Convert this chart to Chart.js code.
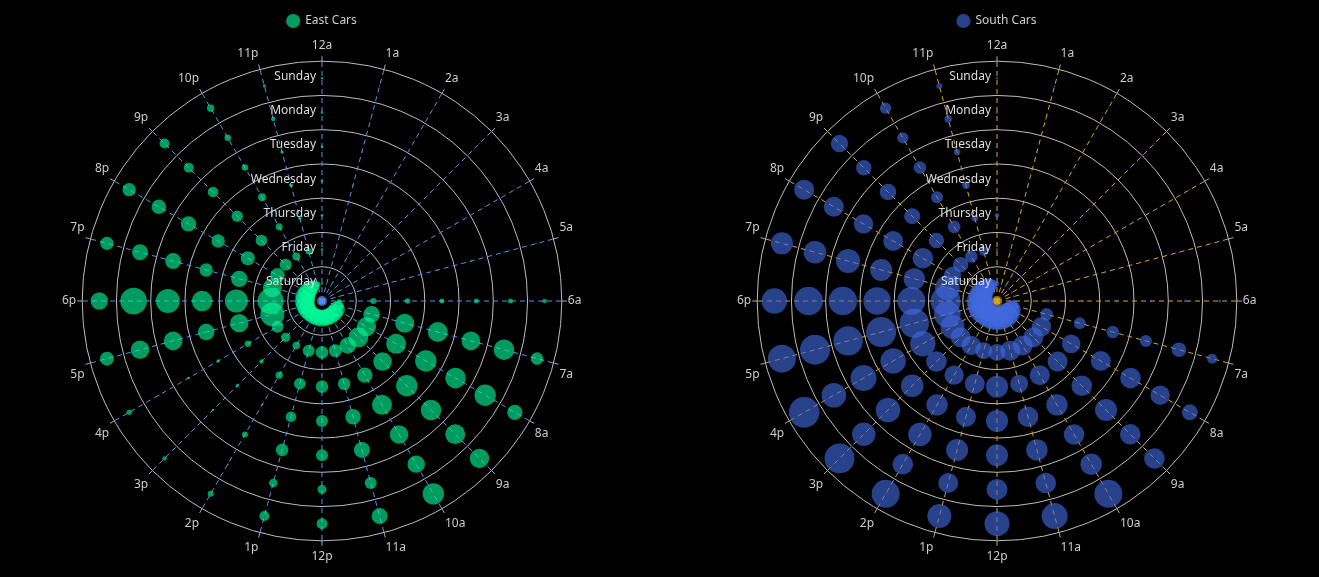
<!DOCTYPE html>
<html>
<head>
<meta charset="utf-8">
<script src="https://cdn.jsdelivr.net/npm/chart.js@4.4.1/dist/chart.umd.min.js"></script>
<style>
  html, body { margin: 0; padding: 0; background: #000; width: 1319px; height: 577px; overflow: hidden; }
  .box { position: absolute; top: 0; width: 644px; height: 577px; }
  #leftBox { left: 0; }
  #rightBox { left: 675px; }
</style>
</head>
<body>
<div class="box" id="leftBox"><canvas id="east" width="644" height="577"></canvas></div>
<div class="box" id="rightBox"><canvas id="south" width="644" height="577"></canvas></div>
<script>
// ---- categories ----
const hours = ['12a','1a','2a','3a','4a','5a','6a','7a','8a','9a','10a','11a',
               '12p','1p','2p','3p','4p','5p','6p','7p','8p','9p','10p','11p'];
const days = ['Sunday','Monday','Tuesday','Wednesday','Thursday','Friday','Saturday'];
// ring position of each day on the radial scale (Sunday outermost)
const dayRing = [6.5, 5.5, 4.5, 3.5, 2.5, 1.5, 0.5];

// ---- East Cars (bubble size per hour) ----
const eastSunday    = [1.3,0.6,0.5,0.5,0.5,0.6,2.3,6.3,7.7,9.7,10.7,8,5.5,5,3,2.3,2.7,7,8.7,6.7,6.7,5,3.7,1.7];
const eastMonday    = [1.3,0.6,0.5,0.5,0.5,0.6,2.5,10.3,10.7,10,8.7,6,4.5,4.3,1,0.8,0.8,9.3,13.3,8,7.3,5,3.3,2.3];
const eastTuesday   = [1.3,0.6,0.5,0.5,0.5,0.8,2.5,9.3,10.3,10.3,9.3,8,6,6.3,3,1.3,1.3,9.3,12,8,7.7,5.3,3.3,1.7];
const eastWednesday = [1.3,0.8,0.5,0.5,0.5,0.6,2.5,10,10.7,10.7,10,7.7,6,5.3,1,1.7,1.7,8.3,10.3,6.7,6.7,5.7,4,2];
const eastThursday  = [1.3,0.6,0.5,0.5,0.5,0.6,2.8,9.5,10,9.3,7.7,6.3,6.3,5.8,3.7,2.2,3.3,9.2,11.5,8.2,7,5.8,3.5,1.7];
const eastFriday    = [1.3,0.6,0.5,0.5,0.5,0.6,3,8.3,9.6,10,8.3,6.5,6.3,6,3.8,4.7,6,12,13,9.5,7.2,6,4,3.2];
const eastSaturday  = [1,0.5,0.5,0.5,0.5,0.5,2,5,8,8.5,8.5,8.5,8.5,8.5,8.5,8.5,9,9.5,10,10,9,8,6,3];

// ---- South Cars (bubble size per hour) ----
const southSunday    = [1.3,1,0.7,0.7,0.7,0.7,1.5,5,8,10.3,14,13,12.5,12,14,15,15.3,14,12.7,11,10,8.7,5.7,3];
const southMonday    = [1.3,1,0.7,0.7,0.7,0.7,1.5,7.3,9.7,10.3,10.7,10.3,10.5,10,10.3,11.7,12.3,15,14.3,11.3,10,7.7,5.7,3.7];
const southTuesday   = [1.3,1,0.7,0.7,0.7,0.7,1.5,6,10.3,11,10.3,10.7,11,11,11.7,12.3,13,14.7,14.3,12,9.7,8.3,6.3,3.3];
const southWednesday = [1.3,1,0.7,0.7,0.7,0.7,1.5,6.3,10,10.3,10.7,10.3,11,10,10.7,11.3,12.7,15,13.7,11,10,8,6,3.7];
const southThursday  = [2.3,1,0.7,0.7,0.7,0.7,1.5,6,9.3,10,10,9,11,10,9.7,10.3,12.7,14.7,14,10.7,10.3,7.7,6.3,3.3];
const southFriday    = [1.3,1,0.7,0.7,0.7,0.7,1.5,6.3,9.7,10,10,10,8.5,8.5,9.7,10,12,13.3,15,12.3,8.7,7.7,6.3,4.5];
const southSaturday  = [2.3,1,1,1,1,1,1.5,5,9,11,12,12,12,12,12,12,13,13,13,12,11,10,8,5];

const eastRows  = [eastSunday, eastMonday, eastTuesday, eastWednesday, eastThursday, eastFriday, eastSaturday];
const southRows = [southSunday, southMonday, southTuesday, southWednesday, southThursday, southFriday, southSaturday];

const FONT = '"Noto Sans", "DejaVu Sans", sans-serif';

const overlayPlugin = {
  id: 'overlay',
  beforeDatasetsDraw(chart) {
    const s = chart.scales.r, ctx = chart.ctx;
    ctx.save();
    ctx.strokeStyle = '#aaaaaa';
    ctx.lineWidth = 1;
    for (let i = 0; i < hours.length; i++) {
      const a = s.getPointPosition(i, s.drawingArea);
      const b = s.getPointPosition(i, s.drawingArea + 5);
      ctx.beginPath(); ctx.moveTo(a.x, a.y); ctx.lineTo(b.x, b.y); ctx.stroke();
    }
    ctx.restore();
  },
  afterDatasetsDraw(chart) {
    const s = chart.scales.r, ctx = chart.ctx;
    ctx.save();
    ctx.font = '12px ' + FONT;
    ctx.fillStyle = '#dddddd';
    ctx.textAlign = 'right';
    ctx.textBaseline = 'middle';
    days.forEach((d, i) => {
      const r = s.getDistanceFromCenterForValue(dayRing[i]);
      ctx.fillText(d, s.xCenter - 6, s.yCenter - r - 2);
    });
    ctx.restore();
  }
};

function makeChart(id, title, rows, bubbleColor, spokeColor) {
  const datasets = rows.map((vals, d) => ({
    label: title,
    data: hours.map(() => dayRing[d]),
    showLine: false,
    fill: false,
    borderWidth: 0,
    pointRadius: vals,
    pointHoverRadius: vals,
    pointBackgroundColor: bubbleColor,
    pointBorderWidth: 0,
    pointBorderColor: 'transparent'
  }));
  return new Chart(document.getElementById(id), {
    type: 'radar',
    data: { labels: hours, datasets },
    plugins: [overlayPlugin],
    options: {
      responsive: false,
      animation: false,
      events: [],
      layout: { padding: { top: 3, bottom: 10, left: 0, right: 0 } },
      plugins: {
        tooltip: { enabled: false },
        legend: {
          display: true,
          position: 'top',
          labels: {
            usePointStyle: true,
            pointStyle: 'circle',
            boxHeight: 10,
            padding: 12,
            color: '#cccccc',
            font: { size: 12, family: FONT },
            filter: (item) => item.datasetIndex === 0
          }
        }
      },
      scales: {
        r: {
          min: 0,
          max: 7,
          startAngle: 0,
          ticks: { display: false, stepSize: 1 },
          grid: { circular: true, color: '#bdbdbd', lineWidth: 1 },
          angleLines: { display: true, color: spokeColor, lineWidth: 1, borderDash: [5, 4] },
          pointLabels: { display: true, color: '#cccccc', padding: 6, font: { size: 12, family: FONT, lineHeight: 1.6 } }
        }
      }
    }
  });
}

makeChart('east', 'East Cars', eastRows, 'rgba(0,250,154,0.62)', '#5b8ff0');
makeChart('south', 'South Cars', southRows, 'rgba(65,105,225,0.62)', '#daa520');
</script>
</body>
</html>
